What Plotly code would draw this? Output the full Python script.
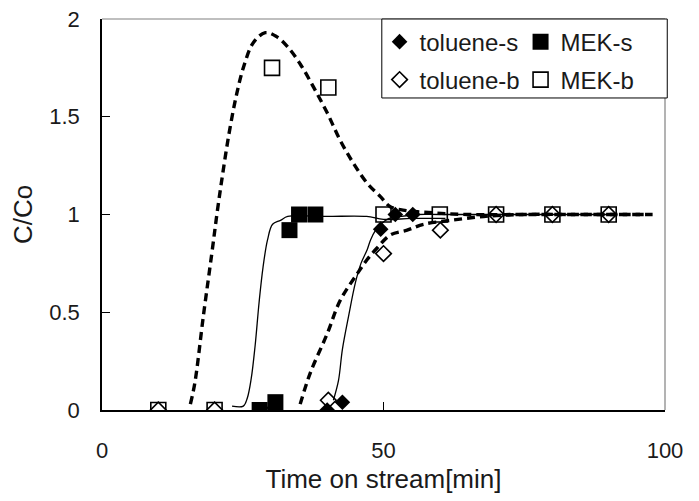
import plotly.graph_objects as go

# ---- measured points ----
tol_s_x = [40, 42.7, 49.5, 52.1, 55.2]
tol_s_y = [0.0, 0.04, 0.925, 1.0, 1.0]

mek_s_x = [28, 30.8, 33.3, 35, 37.9]
mek_s_y = [0.0, 0.04, 0.92, 1.0, 1.0]

tol_b_x = [10, 20, 30.4, 40.2, 50, 60.1, 70, 80, 90]
tol_b_y = [0.0, 0.0, 0.0, 0.05, 0.8, 0.92, 1.0, 1.0, 1.0]

mek_b_x = [10, 20, 30.2, 40.2, 50, 60, 70, 80, 90]
mek_b_y = [0.0, 0.0, 1.75, 1.65, 1.0, 1.0, 1.0, 1.0, 1.0]

# ---- model curves ----
mek_b_fit_x = [15.7, 16.5, 18, 19.5, 20.5, 21.5, 22.6, 23.8, 25.2, 26.9, 29, 31, 32.9,
               35.2, 37.6, 40, 42.3, 44.7, 47.1, 49.5, 51.2, 54, 58, 65, 75, 85, 97.8]
mek_b_fit_y = [0.03, 0.14, 0.48, 0.8, 1.02, 1.22, 1.42, 1.6, 1.76, 1.88, 1.93, 1.91, 1.86,
               1.77, 1.65, 1.52, 1.38, 1.26, 1.16, 1.09, 1.04, 1.02, 1.01, 1.0, 1.0, 1.0, 1.0]

mek_s_fit_x = [23.1, 25.1, 25.8, 26.5, 27.2, 27.9, 28.6, 29.4, 30.3, 31.7, 33, 40, 47, 50, 55, 61]
mek_s_fit_y = [0.02, 0.02, 0.06, 0.16, 0.33, 0.55, 0.73, 0.87, 0.95, 0.97, 0.99, 0.99, 0.99,
               0.975, 0.98, 0.98]

tol_s_fit_x = [41.1, 42, 42.7, 43.8, 45, 46, 47.1, 47.7, 48.6, 49.5, 51, 53, 56, 60, 70, 80, 90]
tol_s_fit_y = [0.05, 0.15, 0.31, 0.48, 0.65, 0.75, 0.82, 0.87, 0.92, 0.95, 0.98, 0.99, 1.0,
               1.0, 1.0, 1.0, 1.0]

tol_b_fit_x = [35.2, 37, 40, 42.3, 45.4, 47.1, 48.9, 51.2, 54.2, 57.1, 61.9, 67.8, 75, 85, 97]
tol_b_fit_y = [0.03, 0.19, 0.39, 0.56, 0.70, 0.77, 0.83, 0.895, 0.92, 0.95, 0.97, 0.99, 1.0,
               1.0, 1.0]

x_ticks = [0, 50, 100]
y_ticks = [0, 0.5, 1, 1.5, 2]
y_tick_text = ["0", "0.5", "1", "1.5", "2"]

FONT = "Liberation Sans"
TXT = "#1a1a1a"
fig = go.Figure()

dash = "8px,5px"
fig.add_trace(go.Scatter(x=mek_b_fit_x, y=mek_b_fit_y, mode="lines", line_shape="spline",
                         line=dict(color="black", width=3.4, dash=dash), showlegend=False))
fig.add_trace(go.Scatter(x=tol_b_fit_x, y=tol_b_fit_y, mode="lines", line_shape="spline",
                         line=dict(color="black", width=3.4, dash=dash), showlegend=False))
fig.add_trace(go.Scatter(x=mek_s_fit_x, y=mek_s_fit_y, mode="lines", line_shape="spline",
                         line=dict(color="black", width=1.3), showlegend=False))
fig.add_trace(go.Scatter(x=tol_s_fit_x, y=tol_s_fit_y, mode="lines", line_shape="spline",
                         line=dict(color="black", width=1.3), showlegend=False))

fig.add_trace(go.Scatter(x=mek_b_x, y=mek_b_y, mode="markers", name="MEK-b", legend="legend2",
                         marker=dict(symbol="square-open", size=15, color="black",
                                     line=dict(width=1.6, color="black"))))
fig.add_trace(go.Scatter(x=tol_b_x, y=tol_b_y, mode="markers", name="toluene-b", legend="legend2",
                         marker=dict(symbol="diamond-open", size=12, color="black",
                                     line=dict(width=1.6, color="black"))))
fig.add_trace(go.Scatter(x=mek_s_x, y=mek_s_y, mode="markers", name="MEK-s", legend="legend",
                         marker=dict(symbol="square", size=16, color="black")))
fig.add_trace(go.Scatter(x=tol_s_x, y=tol_s_y, mode="markers", name="toluene-s", legend="legend",
                         marker=dict(symbol="diamond", size=12, color="black")))

# frame lines top and right (gray)
fig.add_shape(type="line", xref="paper", yref="paper", x0=0, x1=1, y0=1, y1=1,
              line=dict(color="#808080", width=1.2))
fig.add_shape(type="line", xref="paper", yref="paper", x0=1, x1=1, y0=0, y1=1,
              line=dict(color="#808080", width=1.2))
# legend box
fig.add_shape(type="rect", xref="paper", yref="paper", x0=0.497, x1=1.004, y0=0.798, y1=1.0,
              line=dict(color="black", width=1), fillcolor="white", layer="above")

leg_common = dict(orientation="h", xanchor="left", yanchor="middle", bgcolor="rgba(0,0,0,0)",
                  font=dict(family=FONT, size=24, color=TXT), entrywidth=96,
                  traceorder="reversed", itemwidth=30)
fig.update_layout(
    width=691, height=493,
    margin=dict(l=94, r=34, t=11, b=91),
    paper_bgcolor="white", plot_bgcolor="white",
    font=dict(family=FONT, size=22, color=TXT),
    legend=dict(x=0.493, y=0.941, **leg_common),
    legend2=dict(x=0.493, y=0.844, **leg_common),
    xaxis=dict(range=[0, 100], tickvals=x_ticks, ticks="inside", ticklen=8, tickcolor="black",
               showline=True, linecolor="black", linewidth=1.5, showgrid=False, zeroline=False,
               automargin=False, ticklabeloverflow="allow",
               title=dict(text="Time on stream[min]", standoff=8),
               tickfont=dict(size=22), ticklabelstandoff=20),
    yaxis=dict(range=[0, 2], tickvals=y_ticks, ticktext=y_tick_text,
               ticks="inside", ticklen=8, tickcolor="black",
               showline=True, linecolor="black", linewidth=1.5, showgrid=False, zeroline=False,
               automargin=False, ticklabeloverflow="allow",
               title=dict(text="C/Co", standoff=14),
               tickfont=dict(size=22), ticklabelstandoff=16),
)
fig.write_html("out.html")
